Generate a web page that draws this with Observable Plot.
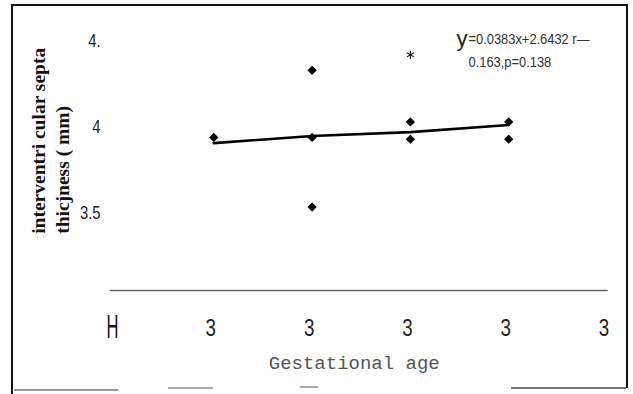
<!DOCTYPE html>
<html><head><meta charset="utf-8">
<script src="https://cdn.jsdelivr.net/npm/d3@7"></script>
<script src="https://cdn.jsdelivr.net/npm/@observablehq/plot@0.6"></script>
<style>
body{margin:0;background:#fff;}
#wrap{position:relative;width:633px;height:394px;overflow:hidden;background:#fff;}
.b{position:absolute;}
</style></head><body><div id="wrap"></div>
<script>
// ---- data ----
const xTickIdx = [0, 1, 2, 3, 4, 5];
const xTickLabels = ["H", "3", "3", "3", "3", "3"];
const yTicks = [3.5, 4, 4.5];
const yTickLabels = ["3.5", "4", "4."];
const pointX = [1, 2, 2, 2, 3, 3, 4, 4];
const pointY = [3.94, 4.33, 3.94, 3.535, 4.03, 3.93, 4.03, 3.93];
const starX = [3];
const starY = [4.42];
const trendX = [1, 2, 3, 4];
const trendY = [3.907, 3.948, 3.971, 4.012];
const yTitle = "interventri cular septa\nthicjness ( mm)";
const xTitle = "Gestational age";
const eqY = "y";
const eqText = "=0.0383x+2.6432 r\u2014\n0.163,p=0.138";

const points = pointX.map((x, i) => ({x, y: pointY[i]}));
const stars = starX.map((x, i) => ({x, y: starY[i]}));
const trend = trendX.map((x, i) => ({x, y: trendY[i]}));

const sans = "'Liberation Sans', Arial, sans-serif";

const plot = Plot.plot({
  width: 633, height: 394,
  marginLeft: 115, marginRight: 26.5, marginTop: 40.6, marginBottom: 104,
  x: {domain: [0, 5]},
  y: {domain: [3.05, 4.5]},
  style: {background: "transparent", fontFamily: sans, color: "#222"},
  marks: [
    Plot.frame({anchor: "bottom", stroke: "#666", strokeWidth: 1.5, insetLeft: -5}),
    Plot.axisY(yTicks, {tickSize: 0, tickPadding: 15, fontSize: 19, fill: "#222",
      tickFormat: d => yTickLabels[yTicks.indexOf(d)], label: null}),
    Plot.axisX(xTickIdx.slice(1), {tickSize: 0, tickPadding: 28, fontSize: 24, fill: "#222", dx: -3,
      tickFormat: d => xTickLabels[d], label: null}),
    Plot.text(xTickIdx.slice(0, 1), {x: d => d, text: d => xTickLabels[d], frameAnchor: "bottom",
      lineAnchor: "top", fontSize: 34, dy: 23, dx: -3, fill: "#111"}),
    Plot.text([xTitle], {text: d => d, frameAnchor: "bottom", lineAnchor: "top", dy: 64.5, dx: -7,
      fontSize: 19, fontFamily: "'Liberation Mono', 'DejaVu Sans Mono', monospace", fill: "#555"}),
    Plot.text([yTitle], {text: d => d, frameAnchor: "left", rotate: -90, textAnchor: "start",
      lineAnchor: "middle", lineHeight: 1.2, dx: -66, dy: 68, fontSize: 19.5, fontWeight: "bold",
      fontFamily: "'Liberation Serif', 'DejaVu Serif', serif", fill: "#111"}),
    Plot.line(trend, {x: "x", y: "y", stroke: "#000", strokeWidth: 2.6, curve: "linear"}),
    Plot.dot(points, {x: "x", y: "y", symbol: "diamond2", r: 4.2, fill: "#000", stroke: "none"}),
    Plot.dot(stars, {x: "x", y: "y", symbol: "asterisk", r: 3.8, stroke: "#111", strokeWidth: 1.1}),
    Plot.text([eqY], {text: d => d, frameAnchor: "top-left", textAnchor: "start", lineAnchor: "top",
      dx: 341, dy: -11, fontSize: 22, fill: "#222"}),
    Plot.text([eqText], {text: d => d, frameAnchor: "top-left", textAnchor: "start", lineAnchor: "top",
      lineHeight: 1.64, dx: 353, dy: -12.9, fontSize: 14, fill: "#333"})
  ]
});
const wrap = document.getElementById("wrap");
wrap.appendChild(plot);
plot.style.position = "absolute"; plot.style.left = "0"; plot.style.top = "0";

// condense the narrow scanned typeface
const squeeze = (sel, k) => plot.querySelectorAll(sel).forEach(t => {
  const w = t.getComputedTextLength();
  t.setAttribute("textLength", (w * k).toFixed(2));
  t.setAttribute("lengthAdjust", "spacingAndGlyphs");
});
squeeze('g[aria-label="y-axis tick label"] text', 0.78);
squeeze('g[aria-label="x-axis tick label"] text', 0.78);
const texts = plot.querySelectorAll('g[aria-label="text"]');
texts[0].querySelectorAll("text").forEach(t => {
  t.setAttribute("textLength", "12"); t.setAttribute("lengthAdjust", "spacingAndGlyphs");
});
squeeze('g[aria-label="text"]:last-of-type tspan', 0.92);

// scanned figure border fragments
const seg = (l, t, w, h, c) => { const d = document.createElement("div"); d.className = "b";
  Object.assign(d.style, {left: l + "px", top: t + "px", width: w + "px", height: h + "px", background: c}); wrap.appendChild(d); };
seg(11, 4, 617, 2, "#111");
seg(11, 4, 2, 390, "#111");
seg(626, 4, 2, 384, "#111");
seg(14, 389, 104, 2, "#999");
seg(168, 387, 45, 2, "#aaa");
seg(300, 386, 18, 2, "#aaa");
seg(511, 387, 115, 1.5, "#777");
</script></body></html>
